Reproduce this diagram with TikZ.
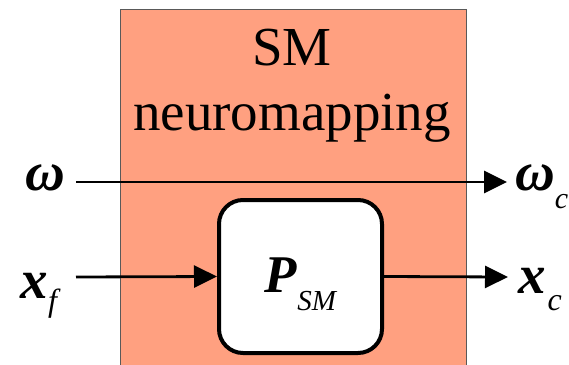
\documentclass[tikz,border=0pt]{standalone}
\usepackage{fontspec}
\setmainfont{Liberation Serif}
\usetikzlibrary{arrows.meta}
\definecolor{salmonfill}{RGB}{255,160,128}
% lowered, smaller subscript in regular weight
\newcommand\lowsub[3][32]{\raisebox{-#2}{\fontsize{#1}{#1}\selectfont\mdseries\itshape #3}}
\tikzset{
  sym/.style={inner sep=0pt, font=\fontsize{55}{55}\selectfont\bfseries\itshape},
  arr/.style={line width=2.8pt, -{Triangle[length=23pt,width=22pt]}},
  block/.style={draw=black!65, line width=0.9pt, fill=salmonfill, inner sep=0pt,
    minimum width=346pt, minimum height=380pt},
  pbox/.style={draw, line width=4pt, fill=white, rounded corners=24pt,
    minimum width=163pt, minimum height=153pt, inner sep=0pt,
    font=\fontsize{53}{53}\selectfont\bfseries\itshape,
    text height=31pt, text depth=0pt},
  title/.style={align=center, inner sep=0pt,
    font=\fontsize{55}{65}\selectfont},
}
\begin{document}
\begin{tikzpicture}[x=1pt, y=-1pt]
\useasboundingbox (0,0) rectangle (569,364);
\clip (0,0) rectangle (569,364);
% mapping block
\node[block, anchor=north west] (blk) at (119.5,9) {};
\node[title, anchor=base] (ttl) at (292,130) {SM\\neuromapping};
% inner model
\node[pbox] (P) at (300.5,276.5) {P\lowsub[29]{18pt}{SM}};
% inputs and outputs
\node[sym, anchor=east, outer xsep=11pt, text height=16pt, text depth=0pt] (w) at (76,182) {ω};
\node[sym, anchor=west, outer xsep=8pt, text height=16pt, text depth=0pt] (wc) at (507,182) {ω\lowsub[30]{18pt}{c}};
\node[sym, anchor=east, outer xsep=19pt, text height=42pt, text depth=0pt] (xf) at (76,277) {x\lowsub{13pt}{f}};
\node[sym, anchor=west, outer xsep=10pt, text height=32pt, text depth=0pt] (xc) at (508,277) {x\kern2pt\lowsub{17pt}{c}};
% signal flow
\draw[arr] (w.east) -- (wc.west);
\draw[arr] (xf.east) -- (P.west);
\draw[arr] (P.east) -- (xc.west);
\end{tikzpicture}
\end{document}
